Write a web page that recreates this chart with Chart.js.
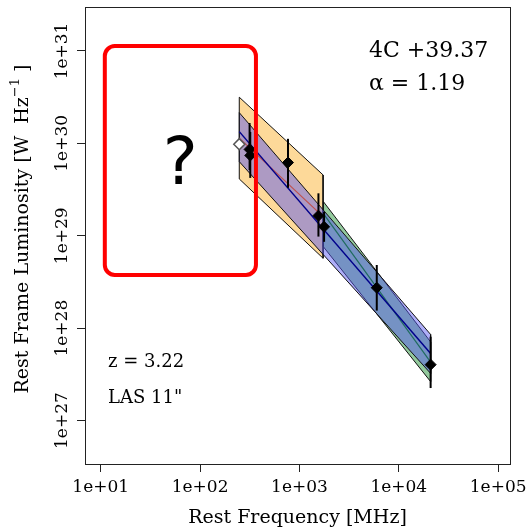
<!DOCTYPE html>
<html>
<head>
<meta charset="utf-8">
<script src="https://cdn.jsdelivr.net/npm/chart.js@4.4.0/dist/chart.umd.min.js"></script>
<style>
    html, body { margin: 0; padding: 0; background: #fff; }
</style>
</head>
<body>
<canvas id="chart" width="530" height="530"></canvas>
<script>
// tick values
const xTicks = [1e1, 1e2, 1e3, 1e4, 1e5];
const yTicks = [1e27, 1e28, 1e29, 1e30, 1e31];

// measured flux points (rest frame)
const freq = [315, 320, 767, 1553, 1770, 6000, 20900];
const lum = [8.6e29, 7.4e29, 6.2e29, 1.65e29, 1.25e29, 2.74e28, 4.03e27];
const lumLow = [5.15e29, 4.23e29, 3.3e29, 9.8e28, 8.6e28, 1.55e28, 2.25e27];
const lumHigh = [1.66e30, 1.33e30, 1.12e30, 2.88e29, 1.81e29, 4.83e28, 8.09e27];

// point not used in the fit
const openFreq = [248];
const openLum = [9.8e29];

// low frequency fit
const orangeFreq = [248, 1730];
const orangeUpper = [3.16e30, 4.55e29];
const orangeLower = [4.12e29, 5.71e28];
const orangeFit = [1.14e30, 1.61e29];

// high frequency fit
const greenFreq = [1742, 20900];
const greenUpper = [2.34e29, 7.1e27];
const greenLower = [7.6e28, 2.64e27];
const greenFit = [1.74e29, 4.3e27];

// full fit
const blueFreq = [248, 20900];
const blueUpper = [2.15e30, 8.55e27];
const blueLower = [6.34e29, 3.24e27];
const blueFit = [1.34e30, 5.32e27];

// "?" box, in data units
const boxFreq = [11.0, 365];
const boxLum = [3.77e28, 1.13e31];

const SERIF = '"DejaVu Serif", serif';

function band(f, up, lo) {
    const pts = f.map((v, i) => ({ x: v, y: up[i] }));
    for (let i = f.length - 1; i >= 0; i--) pts.push({ x: f[i], y: lo[i] });
    pts.push({ x: f[0], y: up[0] });
    return pts;
}

function line(f, v) {
    return f.map((x, i) => ({ x: x, y: v[i] }));
}

function expLabel(v) {
    const e = Math.round(Math.log10(v));
    return '1e+' + String(e).padStart(2, '0');
}

const errorBars = {
    id: 'errorBars',
    beforeDatasetDraw(chart, args) {
        if (args.index !== 6) return;
        const xs = chart.scales.x, ys = chart.scales.y;
        const ctx = chart.ctx;
        ctx.save();
        ctx.strokeStyle = '#000';
        ctx.lineWidth = 2;
        freq.forEach((f, i) => {
            const px = xs.getPixelForValue(f);
            ctx.beginPath();
            ctx.moveTo(px, ys.getPixelForValue(lumLow[i]));
            ctx.lineTo(px, ys.getPixelForValue(lumHigh[i]));
            ctx.stroke();
        });
        ctx.restore();
    }
};

const decorations = {
    id: 'decorations',
    afterDraw(chart) {
        const ctx = chart.ctx;
        const a = chart.chartArea;
        const xs = chart.scales.x, ys = chart.scales.y;
        ctx.save();

        // frame
        ctx.strokeStyle = '#222';
        ctx.lineWidth = 1;
        ctx.strokeRect(Math.round(a.left) + 0.5, Math.round(a.top) + 0.5,
            Math.round(a.right - a.left), Math.round(a.bottom - a.top));

        ctx.fillStyle = '#000';
        // x tick labels
        ctx.font = '17px ' + SERIF;
        ctx.textAlign = 'center';
        ctx.textBaseline = 'middle';
        xTicks.forEach(v => ctx.fillText(expLabel(v), xs.getPixelForValue(v), 488));
        // y tick labels
        yTicks.forEach(v => {
            ctx.save();
            ctx.translate(63, ys.getPixelForValue(v));
            ctx.rotate(-Math.PI / 2);
            ctx.fillText(expLabel(v), 0, 0);
            ctx.restore();
        });

        // axis titles
        ctx.font = '19px ' + SERIF;
        ctx.fillText('Rest Frequency [MHz]', (a.left + a.right) / 2, 518);

        ctx.save();
        ctx.translate(23, 229);
        ctx.rotate(-Math.PI / 2);
        ctx.textAlign = 'left';
        const main = 'Rest Frame Luminosity [W  Hz';
        const sup = '\u22121';
        const tail = ' ]';
        ctx.font = '19px ' + SERIF;
        const w1 = ctx.measureText(main).width;
        const w3 = ctx.measureText(tail).width;
        ctx.font = '13px ' + SERIF;
        const w2 = ctx.measureText(sup).width;
        let x0 = -(w1 + w2 + w3) / 2;
        ctx.font = '19px ' + SERIF;
        ctx.fillText(main, x0, 0);
        ctx.font = '13px ' + SERIF;
        ctx.fillText(sup, x0 + w1, -7);
        ctx.font = '19px ' + SERIF;
        ctx.fillText(tail, x0 + w1 + w2, 0);
        ctx.restore();

        // annotations
        ctx.textAlign = 'left';
        ctx.textBaseline = 'alphabetic';
        ctx.font = '22px ' + SERIF;
        ctx.fillText('4C +39.37', 369, 57);
        ctx.fillText('\u03B1 = 1.19', 369, 90);
        ctx.font = '18px ' + SERIF;
        ctx.fillText('z = 3.22', 108, 367);
        ctx.fillText('LAS 11"', 108, 403);

        // red box with question mark
        const bl = xs.getPixelForValue(boxFreq[0]);
        const br = xs.getPixelForValue(boxFreq[1]);
        const bt = ys.getPixelForValue(boxLum[1]);
        const bb = ys.getPixelForValue(boxLum[0]);
        ctx.strokeStyle = '#ff0000';
        ctx.lineWidth = 4;
        ctx.beginPath();
        ctx.roundRect(bl, bt, br - bl, bb - bt, 10);
        ctx.stroke();
        ctx.font = '66px "DejaVu Sans", sans-serif';
        ctx.textAlign = 'center';
        ctx.fillText('?', (bl + br) / 2, (bt + bb) / 2 + 24);

        ctx.restore();
    }
};

new Chart(document.getElementById('chart'), {
    type: 'scatter',
    data: {
        datasets: [
            {
                data: band(orangeFreq, orangeUpper, orangeLower),
                showLine: true, fill: 'shape', pointRadius: 0,
                backgroundColor: 'rgb(253,217,153)', borderColor: '#111', borderWidth: 1,
                order: 9
            },
            {
                data: band(greenFreq, greenUpper, greenLower),
                showLine: true, fill: 'shape', pointRadius: 0,
                backgroundColor: 'rgba(40,150,60,0.5)', borderColor: '#111', borderWidth: 1,
                order: 8
            },
            {
                data: band(blueFreq, blueUpper, blueLower),
                showLine: true, fill: 'shape', pointRadius: 0,
                backgroundColor: 'rgba(85,85,240,0.48)', borderColor: '#111', borderWidth: 1,
                order: 7
            },
            {
                data: line(orangeFreq, orangeFit),
                showLine: true, pointRadius: 0, borderColor: '#c0504d', borderWidth: 1.2,
                order: 6
            },
            {
                data: line(greenFreq, greenFit),
                showLine: true, pointRadius: 0, borderColor: '#1f6b5e', borderWidth: 1.2,
                order: 5
            },
            {
                data: line(blueFreq, blueFit),
                showLine: true, pointRadius: 0, borderColor: '#00008b', borderWidth: 1.5,
                order: 4
            },
            {
                data: line(freq, lum),
                pointStyle: 'rectRot', pointRadius: 5.5,
                backgroundColor: '#000', borderColor: '#000', borderWidth: 1,
                order: 2
            },
            {
                data: line(openFreq, openLum),
                pointStyle: 'rectRot', pointRadius: 5.5,
                backgroundColor: '#fff', borderColor: '#555', borderWidth: 1.5,
                order: 1
            }
        ]
    },
    options: {
        responsive: false,
        animation: false,
        events: [],
        layout: { padding: { top: 7, right: 20, left: 0, bottom: 0 } },
        plugins: { legend: { display: false }, tooltip: { enabled: false } },
        scales: {
            x: {
                type: 'logarithmic',
                min: 6.95, max: 131500,
                bounds: 'data',
                afterBuildTicks: s => { s.ticks = xTicks.map(v => ({ value: v })); },
                afterFit: s => { s.height = 66; },
                ticks: { display: false },
                grid: { drawOnChartArea: false, drawTicks: true, tickLength: 8, color: '#222' },
                border: { display: true, color: '#222' }
            },
            y: {
                type: 'logarithmic',
                min: 3.39e26, max: 2.99e31,
                bounds: 'data',
                afterBuildTicks: s => { s.ticks = yTicks.map(v => ({ value: v })); },
                afterFit: s => { s.width = 85; },
                ticks: { display: false },
                grid: { drawOnChartArea: false, drawTicks: true, tickLength: 8, color: '#222' },
                border: { display: true, color: '#222' }
            }
        }
    },
    plugins: [errorBars, decorations]
});
</script>
</body>
</html>
